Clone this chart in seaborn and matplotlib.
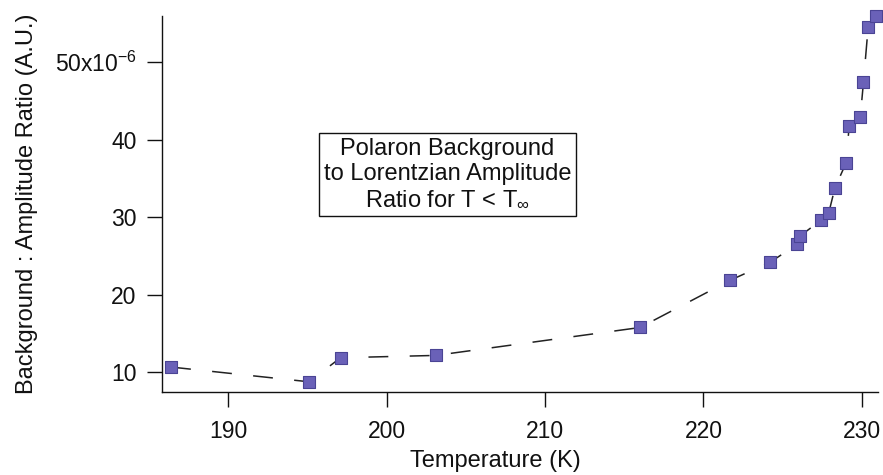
import matplotlib
matplotlib.use("Agg")
import matplotlib.pyplot as plt
import seaborn as sns
import pandas as pd

# Background-to-Lorentzian amplitude ratio below T_infinity (values in units of 1e-6)
temperature_K = [186.4, 195.1, 197.1, 203.1, 216.0, 221.7, 224.2, 225.9, 226.1,
                 227.4, 227.9, 228.3, 229.0, 229.2, 229.9, 230.1, 230.4, 230.9]
ratio_e6 = [10.7, 8.8, 11.9, 12.2, 15.8, 21.9, 24.2, 26.5, 27.6,
            29.6, 30.5, 33.8, 37.0, 41.8, 42.9, 47.4, 54.6, 56.0]

x_ticks = [190, 200, 210, 220, 230]
y_ticks = [10, 20, 30, 40, 50]
y_tick_labels = ["10", "20", "30", "40", "50x10$^{-6}$"]

sns.set_theme(style="ticks")
plt.rcParams["font.family"] = ["Liberation Sans", "DejaVu Sans"]
plt.rcParams["mathtext.fontset"] = "custom"
plt.rcParams["mathtext.rm"] = "Liberation Sans"
plt.rcParams["mathtext.it"] = "Liberation Sans"

df = pd.DataFrame({"T": temperature_K, "ratio": ratio_e6})

fig = plt.figure(figsize=(8.83, 4.75), dpi=100)
ax = fig.add_axes([0.183, 0.175, 0.811, 0.792])

sns.lineplot(data=df, x="T", y="ratio", sort=False, ax=ax,
             color="#222222", linewidth=1.1, dashes=False)
ax.lines[0].set_dashes((13, 14))
sns.scatterplot(data=df, x="T", y="ratio", ax=ax, marker="s", s=68,
                color="#6a61b8", edgecolor="#4a4494", linewidth=0.8, zorder=3,
                clip_on=False)

ax.set_xlim(185.8, 231.0)
ax.set_ylim(7.5, 56.0)
ax.set_xticks(x_ticks)
ax.set_yticks(y_ticks)
ax.set_yticklabels(y_tick_labels)
ax.tick_params(axis="both", direction="out", length=11, width=1.0,
               labelsize=16.5, colors="#111111", pad=7)
ax.tick_params(axis="x", pad=9)
for side in ("top", "right"):
    ax.spines[side].set_visible(False)
for side in ("left", "bottom"):
    ax.spines[side].set_linewidth(1.0)
    ax.spines[side].set_color("#111111")

ax.set_xlabel("Temperature (K)", fontsize=17, color="#111111", labelpad=8)
ax.xaxis.set_label_coords(0.466, -0.155)
ax.set_ylabel("Background : Amplitude Ratio (A.U.)", fontsize=17,
              color="#111111", labelpad=12)

ax.text(0.399, 0.578,
        "Polaron Background\nto Lorentzian Amplitude\nRatio for T < T$_{\\infty}$",
        transform=ax.transAxes, ha="center", va="center", fontsize=17,
        color="#111111", linespacing=1.2,
        bbox=dict(boxstyle="square,pad=0.2", facecolor="white",
                  edgecolor="#111111", linewidth=1.0))

fig.savefig("out.png", dpi=100)
